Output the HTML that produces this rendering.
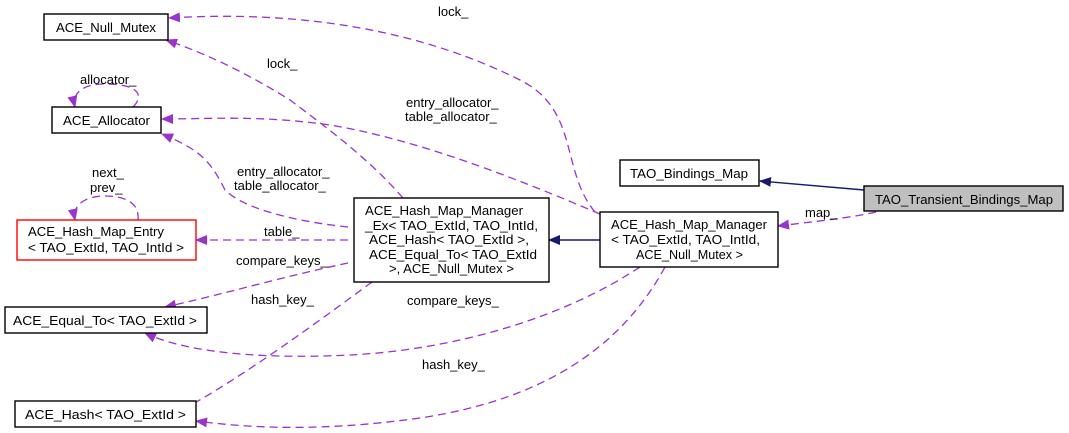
<!DOCTYPE html>
<html><head><meta charset="utf-8"><style>
body{margin:0;background:#fff}
svg{display:block}
text{font-family:"Liberation Sans",Arial,sans-serif;font-size:13px;fill:#000}
.e{fill:none;stroke:#9a32cd;stroke-dasharray:8,5;stroke-width:1.3}
.b{fill:#fff;stroke:#000;stroke-width:1.4}
</style></head><body>
<svg width="1069" height="433" viewBox="0 0 1069 433">
<defs>
<marker id="p" markerWidth="12" markerHeight="10" refX="11" refY="5" orient="auto" markerUnits="userSpaceOnUse"><path d="M0,0 L12,5 L0,10 z" fill="#9a32cd"/></marker>
<marker id="n" markerWidth="12" markerHeight="10" refX="11" refY="5" orient="auto" markerUnits="userSpaceOnUse"><path d="M0,0 L12,5 L0,10 z" fill="#191970"/></marker>
</defs>
<path class="e" d="M595,212 C560,170 580,110 520,80 C420,30 300,10 169,18" marker-end="url(#p)"/>
<path class="e" d="M403,198 C370,160 330,130 290,100 C250,75 210,55 166,40" marker-end="url(#p)"/>
<path class="e" d="M133,107 C145,95 138,84 105,84 C80,84 72,95 75,107" marker-end="url(#p)"/>
<path class="e" d="M600,214 C520,180 420,140 330,125 C260,115 210,119 162,119" marker-end="url(#p)"/>
<path class="e" d="M348,227 C300,222 245,210 225,190 C210,160 200,150 162,134" marker-end="url(#p)"/>
<path class="e" d="M138,220 C140,200 120,196 105,196 C85,196 72,205 75,220" marker-end="url(#p)"/>
<path class="e" d="M348,240 L196,240" marker-end="url(#p)"/>
<path class="e" d="M348,263 C290,275 220,295 165,307" marker-end="url(#p)"/>
<path class="e" d="M372,282 C320,320 220,395 150,426" marker-end="url(#p)"/>
<path class="e" d="M640,267 C560,320 450,350 350,355 C250,360 180,350 145,333" marker-end="url(#p)"/>
<path class="e" d="M665,267 C620,350 540,400 420,418 C320,432 250,428 196,421" marker-end="url(#p)"/>
<path class="e" d="M876,212 C850,218 810,222 778,226" marker-end="url(#p)"/>
<path d="M864,190 L760,181" stroke="#191970" stroke-width="1.4" fill="none" marker-end="url(#n)"/>
<path d="M600,240 L549,240" stroke="#191970" stroke-width="1.4" fill="none" marker-end="url(#n)"/>
<text x="438" y="16">lock_</text>
<text x="267" y="68">lock_</text>
<text x="80" y="84">allocator_</text>
<text x="406" y="107">entry_allocator_</text>
<text x="405" y="121">table_allocator_</text>
<text x="237" y="176">entry_allocator_</text>
<text x="234" y="190">table_allocator_</text>
<text x="92" y="177">next_</text>
<text x="90" y="192">prev_</text>
<text x="264" y="236">table_</text>
<text x="236" y="265">compare_keys_</text>
<text x="251" y="304">hash_key_</text>
<text x="407" y="305">compare_keys_</text>
<text x="422" y="369">hash_key_</text>
<text x="805" y="217">map_</text>
<rect class="b" x="44" y="14" width="124" height="26"/><text x="56" y="32" textLength="100" lengthAdjust="spacingAndGlyphs">ACE_Null_Mutex</text>
<rect class="b" x="52" y="107" width="109" height="26"/><text x="63" y="125" textLength="87" lengthAdjust="spacingAndGlyphs">ACE_Allocator</text>
<rect x="17" y="220" width="179" height="40" fill="#fff" stroke="#ff0000" stroke-width="1.4"/>
<text x="28" y="236" textLength="136" lengthAdjust="spacingAndGlyphs">ACE_Hash_Map_Entry</text><text x="28" y="252" textLength="156" lengthAdjust="spacingAndGlyphs">&lt; TAO_ExtId, TAO_IntId &gt;</text>
<rect class="b" x="5" y="307" width="202" height="26"/><text x="13" y="325" textLength="184" lengthAdjust="spacingAndGlyphs">ACE_Equal_To&lt; TAO_ExtId &gt;</text>
<rect class="b" x="15" y="401" width="181" height="26"/><text x="25" y="419" textLength="161" lengthAdjust="spacingAndGlyphs">ACE_Hash&lt; TAO_ExtId &gt;</text>
<rect class="b" x="354" y="198" width="195" height="84"/>
<text x="365" y="215" textLength="158" lengthAdjust="spacingAndGlyphs">ACE_Hash_Map_Manager</text>
<text x="365" y="230" textLength="173" lengthAdjust="spacingAndGlyphs">_Ex&lt; TAO_ExtId, TAO_IntId,</text>
<text x="369" y="244" textLength="160" lengthAdjust="spacingAndGlyphs">ACE_Hash&lt; TAO_ExtId &gt;,</text>
<text x="369" y="259" textLength="168" lengthAdjust="spacingAndGlyphs">ACE_Equal_To&lt; TAO_ExtId</text>
<text x="389" y="273" textLength="125" lengthAdjust="spacingAndGlyphs">&gt;, ACE_Null_Mutex &gt;</text>
<rect class="b" x="600" y="212" width="178" height="55"/>
<text x="611" y="229" textLength="156" lengthAdjust="spacingAndGlyphs">ACE_Hash_Map_Manager</text>
<text x="611" y="244" textLength="149" lengthAdjust="spacingAndGlyphs">&lt; TAO_ExtId, TAO_IntId,</text>
<text x="636" y="259" textLength="107" lengthAdjust="spacingAndGlyphs">ACE_Null_Mutex &gt;</text>
<rect class="b" x="620" y="160" width="139" height="26"/><text x="630" y="178" textLength="118" lengthAdjust="spacingAndGlyphs">TAO_Bindings_Map</text>
<rect x="864" y="186" width="199" height="25" fill="#bfbfbf" stroke="#000" stroke-width="1.4"/><text x="875" y="204" textLength="178" lengthAdjust="spacingAndGlyphs">TAO_Transient_Bindings_Map</text>
</svg>
</body></html>
